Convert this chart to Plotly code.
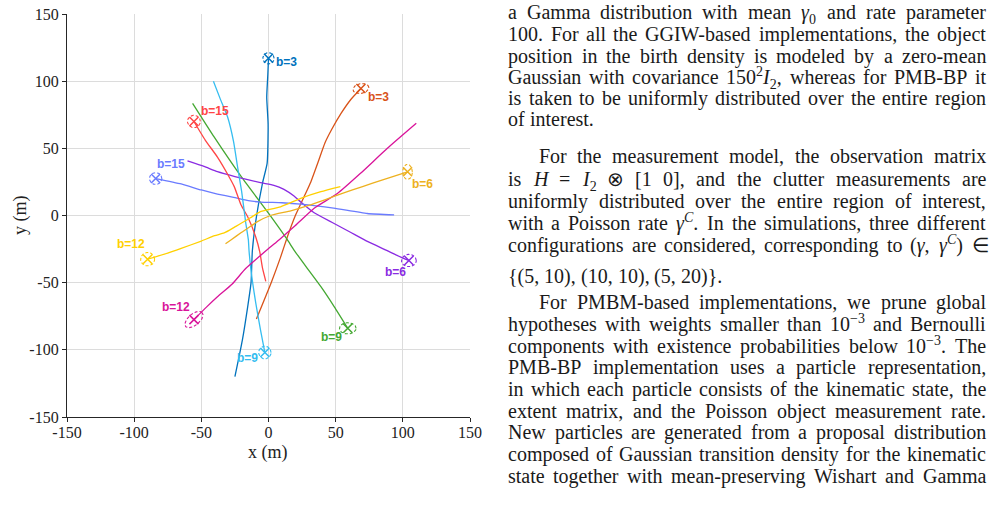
import re
import numpy as np
import plotly.graph_objects as go

W, H = 992, 506

# ---------------- trajectory data (m) ----------------
blue_x = [-25, -19.5, -15.5, -13, -12, -9, -4.5, -1, -0.3, -1.3, -0.5, 0]
blue_y = [-120, -93, -68, -50, -26, -1, 24, 39, 68, 88, 105, 117]
orange_x = [-9, 2, 9, 14, 20, 26.5, 31.5, 37, 42, 47, 54, 61, 68.8]
orange_y = [-77, -50, -31, -16, 0, 14, 25, 40, 54, 64, 76, 86, 94.5]
green_x = [-56.5, -40.5, -20, 2, 14, 19, 29, 39, 49, 59]
green_y = [83.5, 58.5, 28.5, -1, -18, -25.7, -39.5, -53, -68, -84]
purple_x = [-60.3, -48, -38, -25, -6, 4, 11.5, 19, 24, 34, 48.5, 61, 74, 88, 98.5, 104.5]
purple_y = [40.6, 36.5, 32.6, 29, 24.5, 22.5, 19.5, 14.5, 10, 2, -5.8, -12.5, -19.5, -26, -31, -33.5]
peri_x = [-84, -65, -50, -38, -26, -15, -6, 10, 24, 48.5, 73.5, 93.5]
peri_y = [27.5, 23.5, 19, 16, 13.5, 11, 10, 9.5, 8.5, 5.5, 1.5, 0.5]
red_x = [-55.5, -47, -38, -30, -25.5, -20.5, -15.5, -9.5, -6.5, -4.5, -2]
red_y = [70, 56, 43.5, 30, 21.5, 8, -1, -16, -27, -39, -49]
cyan_x = [-41, -36, -30.5, -26, -23, -20, -17, -15, -14.5, -13, -9.5, -6, -2.7]
cyan_y = [100, 87, 73.5, 55, 36, 18, -5, -18, -26, -41, -65, -85, -102]
magenta_x = [-55.5, -46, -38, -27, -17, -1, 8, 20, 34, 51.5, 68.5, 88.5, 110]
magenta_y = [-77.5, -68, -60.5, -51, -39.5, -25.5, -18, -7.5, 5.4, 16.5, 31.4, 50, 68.6]
yellow_x = [-90, -75, -65, -50, -40, -33, -25, -18, -10, -5.5, 9, 24, 39, 53.5]
yellow_y = [-32.5, -28, -24.5, -19, -15, -13, -8.5, -4.5, 0.5, 3, 6.5, 12.8, 17.7, 21.5]
amber_x = [-32, -28, -20, -15.5, -8.2, 1.5, 16.6, 30, 41.4, 55, 70, 85, 103.5]
amber_y = [-21, -18.2, -12.5, -9.5, -4.6, 0, 3.5, 7.5, 11.5, 16.5, 21.5, 26.5, 32.5]

track_colors = {
    "blue": "#0072BD", "orange": "#D95319", "green": "#44A832", "purple": "#8A2BE2",
    "peri": "#6A7BFF", "red": "#FF4545", "cyan": "#35BDF0", "magenta": "#D9149A",
    "yellow": "#FFD000", "amber": "#EDB120",
}
tracks = [
    ("blue", blue_x, blue_y), ("orange", orange_x, orange_y), ("green", green_x, green_y),
    ("purple", purple_x, purple_y), ("peri", peri_x, peri_y), ("red", red_x, red_y),
    ("cyan", cyan_x, cyan_y), ("magenta", magenta_x, magenta_y), ("yellow", yellow_x, yellow_y),
    ("amber", amber_x, amber_y),
]
# which end of each series carries the estimate marker (0 = first point, -1 = last point)
marker_end = {"blue": -1, "orange": -1, "green": -1, "purple": -1, "peri": 0, "red": 0,
              "cyan": -1, "magenta": 0, "yellow": 0, "amber": -1}
ell_a = {"blue": 4.2, "orange": 6.0, "green": 6.2, "purple": 5.5, "peri": 4.6, "red": 4.8,
         "cyan": 4.6, "magenta": 8.0, "yellow": 5.2, "amber": 3.6}
ell_b = {"blue": 4.2, "orange": 3.6, "green": 4.2, "purple": 4.6, "peri": 4.4, "red": 4.6,
         "cyan": 4.7, "magenta": 4.2, "yellow": 5.0, "amber": 5.6}
ell_ang = {"blue": 0, "orange": 10, "green": 0, "purple": 0, "peri": 0, "red": 0,
           "cyan": 0, "magenta": 40, "yellow": 0, "amber": 0}
label_text = {"blue": "b=3", "orange": "b=3", "green": "b=9", "purple": "b=6", "peri": "b=15",
              "red": "b=15", "cyan": "b=9", "magenta": "b=12", "yellow": "b=12", "amber": "b=6"}
label_x = {"blue": 13.6, "orange": 81.6, "green": 46.9, "purple": 94.8, "peri": -72.3,
           "red": -40, "cyan": -15.6, "magenta": -69, "yellow": -102, "amber": 114.7}
label_y = {"blue": 114.3, "orange": 88, "green": -90.7, "purple": -42.3, "peri": 38.3,
           "red": 78, "cyan": -106.3, "magenta": -68.4, "yellow": -21.2, "amber": 23.2}

tick_vals = [-150, -100, -50, 0, 50, 100, 150]
tick_text = ["-150", "-100", "-50", "0", "50", "100", "150"]

# ---------------- figure ----------------
fig = go.Figure()
for name, xs, ys in tracks:
    c = track_colors[name]
    fig.add_trace(go.Scatter(x=xs, y=ys, mode="lines",
                             line=dict(color=c, width=1.3, shape="spline", smoothing=0.5),
                             showlegend=False, hoverinfo="skip"))
for name, xs, ys in tracks:
    c = track_colors[name]
    i = marker_end[name]
    cx, cy = xs[i], ys[i]
    t = np.linspace(0, 2 * np.pi, 80)
    th = np.deg2rad(ell_ang[name])
    ex = cx + ell_a[name] * np.cos(t) * np.cos(th) - ell_b[name] * np.sin(t) * np.sin(th)
    ey = cy + ell_a[name] * np.cos(t) * np.sin(th) + ell_b[name] * np.sin(t) * np.cos(th)
    fig.add_trace(go.Scatter(x=ex, y=ey, mode="lines",
                             line=dict(color=c, width=1.1, dash="3px,2px"),
                             showlegend=False, hoverinfo="skip"))
    fig.add_trace(go.Scatter(x=[cx], y=[cy], mode="markers",
                             marker=dict(symbol="x-thin", size=9, line=dict(color=c, width=1.5)),
                             showlegend=False, hoverinfo="skip"))
    fig.add_annotation(x=label_x[name], y=label_y[name], xref="x", yref="y",
                       text="<b>%s</b>" % label_text[name], showarrow=False,
                       xanchor="center", yanchor="middle",
                       font=dict(family="Liberation Sans, Arial, sans-serif", size=12, color=c))

axis_common = dict(range=[-150, 150], tickvals=tick_vals, ticktext=tick_text,
                   showgrid=True, gridcolor="#dcdcdc", gridwidth=1, zeroline=False,
                   showline=True, linecolor="#262626", linewidth=1.2,
                   ticks="outside", ticklen=4, tickcolor="#262626", tickwidth=1,
                   tickfont=dict(family="Liberation Serif, DejaVu Serif, serif", size=16, color="#222222"),
                   automargin=False, fixedrange=True)
fig.update_layout(
    width=W, height=H, margin=dict(l=0, r=0, t=0, b=0),
    paper_bgcolor="white", plot_bgcolor="white",
    xaxis=dict(domain=[67 / W, 470 / W], ticklabelstandoff=-3, **axis_common),
    yaxis=dict(domain=[1 - 417 / H, 1 - 14 / H], **axis_common),
    showlegend=False,
)
fig.add_annotation(x=268 / W, y=1 - 452 / H, xref="paper", yref="paper", text="x (m)",
                   xanchor="center", yanchor="middle", showarrow=False,
                   font=dict(family="Liberation Serif, serif", size=18, color="#222222"))
fig.add_annotation(x=20 / W, y=1 - 215 / H, xref="paper", yref="paper", text="y (m)", textangle=-90,
                   xanchor="center", yanchor="middle", showarrow=False,
                   font=dict(family="Liberation Serif, serif", size=18, color="#222222"))

# ---------------- right-hand text column ----------------
TW = {' ': 250, '.': 250, ',': 250, '-': 333, '(': 333, ')': 333, '{': 480, '}': 480,
      '[': 333, ']': 333, '=': 564, '\u2212': 564, '\u03b3': 450, '\u2297': 780, '\u2208': 680}
TW.update({c: w for c, w in zip("abcdefghijklmnopqrstuvwxyz",
          [444, 500, 444, 500, 444, 333, 500, 500, 278, 278, 500, 278, 778, 500, 500, 500, 500, 333, 389, 278, 500, 500, 722, 500, 500, 444])})
TW.update({c: w for c, w in zip("ABCDEFGHIJKLMNOPQRSTUVWXYZ",
          [722, 667, 667, 722, 611, 556, 722, 722, 333, 389, 722, 611, 889, 722, 722, 556, 722, 667, 556, 611, 722, 722, 944, 722, 722, 611])})
for d in "0123456789":
    TW[d] = 500

FS = 20
LEFT, RIGHT, INDENT = 507, 985, 538
PAD = "<sup>\u00a0</sup><sub>\u00a0</sub>"  # same vertical extent for every word box


def tok_width(tok):
    scale = 1.0
    w = 0.0
    for part in re.split(r"(<[^>]+>)", tok):
        if part in ("<sub>", "<sup>"):
            scale = 0.7
        elif part in ("</sub>", "</sup>"):
            scale = 1.0
        elif part.startswith("<"):
            continue
        else:
            for ch in part:
                w += TW.get(ch, 500) * scale
    return w * FS / 1000.0


g0 = "<i>\u03b3</i>"
gC = "<i>\u03b3</i><sup><i>C</i></sup>"
text_lines = [
    (13, LEFT, True, ["a", "Gamma", "distribution", "with", "mean", g0 + "<sub>0</sub>", "and", "rate", "parameter"]),
    (35, LEFT, True, ["100.", "For", "all", "the", "GGIW-based", "implementations,", "the", "object"]),
    (57, LEFT, True, ["position", "in", "the", "birth", "density", "is", "modeled", "by", "a", "zero-mean"]),
    (78, LEFT, True, ["Gaussian", "with", "covariance", "150<sup>2</sup><i>I</i><sub>2</sub>,", "whereas", "for", "PMB-BP", "it"]),
    (99, LEFT, True, ["is", "taken", "to", "be", "uniformly", "distributed", "over", "the", "entire", "region"]),
    (120, LEFT, False, ["of", "interest."]),
    (157, INDENT, True, ["For", "the", "measurement", "model,", "the", "observation", "matrix"]),
    (180, LEFT, True, ["is", "<i>H</i>", "=", "<i>I</i><sub>2</sub>", "\u2297", "[1", "0],", "and", "the", "clutter", "measurements", "are"]),
    (202, LEFT, True, ["uniformly", "distributed", "over", "the", "entire", "region", "of", "interest,"]),
    (224, LEFT, True, ["with", "a", "Poisson", "rate", gC + ".", "In", "the", "simulations,", "three", "different"]),
    (246, LEFT, True, ["configurations", "are", "considered,", "corresponding", "to", "(" + g0 + ",", gC + ")", "\u2208"]),
    (277, LEFT, False, ["{(5,", "10),", "(10,", "10),", "(5,", "20)}."]),
    (303, INDENT, True, ["For", "PMBM-based", "implementations,", "we", "prune", "global"]),
    (325, LEFT, True, ["hypotheses", "with", "weights", "smaller", "than", "10<sup>\u22123</sup>", "and", "Bernoulli"]),
    (347, LEFT, True, ["components", "with", "existence", "probabilities", "below", "10<sup>\u22123</sup>.", "The"]),
    (368, LEFT, True, ["PMB-BP", "implementation", "uses", "a", "particle", "representation,"]),
    (390, LEFT, True, ["in", "which", "each", "particle", "consists", "of", "the", "kinematic", "state,", "the"]),
    (412, LEFT, True, ["extent", "matrix,", "and", "the", "Poisson", "object", "measurement", "rate."]),
    (433, LEFT, True, ["New", "particles", "are", "generated", "from", "a", "proposal", "distribution"]),
    (455, LEFT, True, ["composed", "of", "Gaussian", "transition", "density", "for", "the", "kinematic"]),
    (477, LEFT, True, ["state", "together", "with", "mean-preserving", "Wishart", "and", "Gamma"]),
]

for ly, x0, justify, toks in text_lines:
    widths = [tok_width(t) for t in toks]
    if justify and len(toks) > 1:
        gap = (RIGHT - x0 - sum(widths)) / (len(toks) - 1)
    else:
        gap = 250 * FS / 1000.0
    x = x0
    for t, w in zip(toks, widths):
        fig.add_annotation(x=x / W, y=1 - ly / H, xref="paper", yref="paper", text=t + PAD,
                           xanchor="left", yanchor="middle", showarrow=False, borderpad=0,
                           font=dict(family="Liberation Serif, Times New Roman, serif", size=FS, color="#1a1a1a"))
        x += w + gap

fig.write_html("out.html")
